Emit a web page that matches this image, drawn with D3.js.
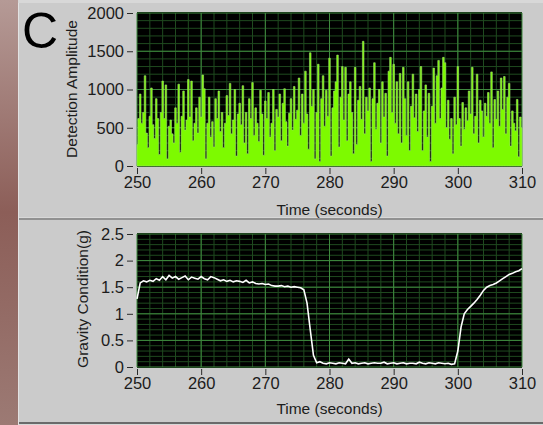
<!DOCTYPE html>
<html>
<head>
<meta charset="utf-8">
<script src="https://cdn.jsdelivr.net/npm/d3@7"></script>
<style>
  body { margin: 0; background: #d6d6d6; }
  svg { display: block; }
  .tick text { font-family: "Liberation Sans", Arial, sans-serif; font-size: 16.5px; fill: #1c1c1c; }
  .tick line { stroke: #2a2a2a; }
  .axisTitle { font-family: "Liberation Sans", Arial, sans-serif; font-size: 15.5px; fill: #1c1c1c; }
</style>
</head>
<body>
<div id="chart"></div>
<script>
// chart data
var xTicks = [250, 260, 270, 280, 290, 300, 310];
var ampTicks = [0, 500, 1000, 1500, 2000];
var gravTicks = [0, 0.5, 1, 1.5, 2, 2.5];
var gravTickLabels = ["0", "0.5", "1", "1.5", "2", "2.5"];

// detection amplitude, 4 samples per second from 250 s to 310 s
var ampStart = 250, ampStep = 0.25;
var amplitude = [
  280, 620, 940, 560,   700, 1180, 430, 240,   650, 1020, 540, 360,   880, 620, 150, 700,
  1110, 620, 1060, 90,  520, 600, 420, 300,    760, 560, 1070, 180,   650, 980, 470, 600,
  1130, 640, 1110, 330, 560, 760, 430, 900,    640, 1190, 1010, 90,   560, 900, 380, 580,
  250, 880, 620, 980,   450, 700, 240, 560,    920, 660, 1080, 420,   600, 1000, 130, 680,
  820, 540, 1050, 300,  700, 160, 880, 620,    1090, 400, 760, 560,   320, 990, 680, 140,
  850, 620, 960, 380,   560, 1000, 200, 740,   640, 940, 330, 820,    1010, 580, 260, 690,
  880, 470, 1040, 610,  730, 1150, 400, 940,   560, 1240, 680, 220,   1480, 780, 1000, 90,
  700, 1330, 60, 880,   1180, 520, 990, 650,   1410, 130, 760, 980,   1100, 1450, 250, 900,
  1300, 600, 1290, 330, 940, 1100, 700, 160,   1290, 280, 860, 1040,  610, 1630, 420, 900,
  720, 1020, 60, 880,   1350, 480, 820, 1000,  300, 1100, 640, 950,   130, 1240, 1420, 700,
  1330, 560, 1100, 420, 1210, 300, 1290, 880,  400, 1100, 200, 780,   1200, 630, 940, 450,
  1000, 1300, 200, 720, 1060, 380, 950, 60,    780, 1280, 560, 1180,  1380, 620, 1020, 1420,
  1350, 500, 860, 350,  620, 160, 900, 540,    1300, 620, 260, 830,   480, 760, 590, 980,
  680, 1290, 420, 650,  1200, 300, 860, 720,   380, 820, 650, 960,   560, 1230, 240, 870,
  610, 980, 520, 1150,  740, 1170, 420, 900,   1080, 260, 720, 560,   460, 870, 120, 640,
  500
];

// gravity condition (g), 2 samples per second from 250 s to 310 s
var gravStart = 250, gravStep = 0.5;
var gravity = [
  1.28, 1.58, 1.62, 1.60, 1.63, 1.61, 1.66, 1.63, 1.70, 1.64,
  1.72, 1.67, 1.70, 1.65, 1.68, 1.71, 1.64, 1.69, 1.67, 1.65,
  1.70, 1.66, 1.64, 1.70, 1.68, 1.65, 1.62, 1.64, 1.61, 1.63,
  1.60, 1.62, 1.61, 1.59, 1.63, 1.58, 1.60, 1.57, 1.56, 1.57,
  1.55, 1.56, 1.53, 1.52, 1.52, 1.53, 1.51, 1.52, 1.50, 1.51,
  1.50, 1.49, 1.45, 1.20, 0.70, 0.22, 0.08, 0.10, 0.07, 0.06,
  0.08, 0.07, 0.06, 0.08, 0.07, 0.06, 0.15, 0.07, 0.08, 0.06,
  0.07, 0.08, 0.06, 0.07, 0.08, 0.07, 0.07, 0.09, 0.06, 0.07,
  0.08, 0.06, 0.07, 0.08, 0.06, 0.07, 0.07, 0.06, 0.09, 0.07,
  0.06, 0.08, 0.07, 0.06, 0.08, 0.07, 0.06, 0.07, 0.05, 0.06,
  0.30, 0.75, 1.00, 1.08, 1.14, 1.20, 1.27, 1.35, 1.44, 1.50,
  1.53, 1.55, 1.58, 1.62, 1.66, 1.70, 1.74, 1.76, 1.79, 1.81,
  1.85
];

var svgWidth = 543;
var svgHeight = 425;

var svg = d3.select("#chart")
  .append("svg")
  .attr("width", svgWidth)
  .attr("height", svgHeight);

// background: brownish strip at left, gray panels
var defs = svg.append("defs");
var grad = defs.append("linearGradient").attr("id", "strip")
  .attr("x1", 0).attr("y1", 0).attr("x2", 0).attr("y2", 1);
grad.append("stop").attr("offset", "0%").attr("stop-color", "#b59a96");
grad.append("stop").attr("offset", "50%").attr("stop-color", "#8c5e58");
grad.append("stop").attr("offset", "100%").attr("stop-color", "#9c7a74");

svg.append("rect").attr("width", svgWidth).attr("height", svgHeight).attr("fill", "#d8d8d8");
svg.append("rect").attr("x", 0).attr("y", 0).attr("width", 18).attr("height", svgHeight).attr("fill", "url(#strip)");

// top panel
svg.append("rect").attr("x", 18).attr("y", 3).attr("width", 525).attr("height", 214).attr("fill", "#cbcbcb");
// bottom panel
svg.append("rect").attr("x", 18).attr("y", 220).attr("width", 525).attr("height", 202).attr("fill", "#cbcbcb");
svg.append("line").attr("x1", 18).attr("x2", 543).attr("y1", 219).attr("y2", 219).attr("stroke", "#7a7a7a").attr("stroke-width", 1.5);
svg.append("line").attr("x1", 18).attr("x2", 543).attr("y1", 423).attr("y2", 423).attr("stroke", "#6a6a6a").attr("stroke-width", 2);
svg.append("line").attr("x1", 18.5).attr("x2", 18.5).attr("y1", 3).attr("y2", 425).attr("stroke", "#e2e2e2").attr("stroke-width", 1);

var plotLeft = 137, plotRight = 522;

function drawGrid(g, xScale, yScale, xMinor, yMinor, xMajor, yMajor) {
  g.append("g").selectAll("line").data(xMinor).enter().append("line")
    .attr("x1", d => xScale(d)).attr("x2", d => xScale(d))
    .attr("y1", yScale.range()[0]).attr("y2", yScale.range()[1])
    .attr("stroke", "#1f4a1f").attr("stroke-width", 1);
  g.append("g").selectAll("line").data(yMinor).enter().append("line")
    .attr("y1", d => yScale(d)).attr("y2", d => yScale(d))
    .attr("x1", xScale.range()[0]).attr("x2", xScale.range()[1])
    .attr("stroke", "#1f4a1f").attr("stroke-width", 1);
  g.append("g").selectAll("line").data(xMajor).enter().append("line")
    .attr("x1", d => xScale(d)).attr("x2", d => xScale(d))
    .attr("y1", yScale.range()[0]).attr("y2", yScale.range()[1])
    .attr("stroke", "#3f8a3f").attr("stroke-width", 1);
  g.append("g").selectAll("line").data(yMajor).enter().append("line")
    .attr("y1", d => yScale(d)).attr("y2", d => yScale(d))
    .attr("x1", xScale.range()[0]).attr("x2", xScale.range()[1])
    .attr("stroke", "#3f8a3f").attr("stroke-width", 1);
}

function styleAxis(ax) {
  ax.select(".domain").remove();
  ax.selectAll(".tick line").attr("stroke", "#2a2a2a");
}

// ---------- top chart: detection amplitude ----------
var xTop = d3.scaleLinear().domain([250, 310]).range([plotLeft, plotRight]);
var yTop = d3.scaleLinear().domain([0, 2000]).range([166, 13]);

svg.append("rect").attr("x", plotLeft).attr("y", 12).attr("width", plotRight - plotLeft).attr("height", 155).attr("fill", "#000");

drawGrid(svg.append("g"), xTop, yTop,
  d3.range(252, 310, 2), d3.range(100, 2000, 100), xTicks, ampTicks);

var ampData = amplitude.map((v, i) => ({ t: ampStart + i * ampStep, v: v }));
svg.append("path")
  .datum(ampData)
  .attr("fill", "#7dfa00")
  .attr("stroke", "#9fe070")
  .attr("stroke-width", 0.6)
  .attr("d", d3.area().curve(d3.curveStep).x(d => xTop(d.t)).y0(yTop(0)).y1(d => yTop(d.v)));

var yAxisTop = svg.append("g")
  .attr("transform", `translate(${plotLeft - 4}, 0)`)
  .call(d3.axisLeft(yTop).tickValues(ampTicks).tickFormat(d3.format("d")).tickSize(6).tickPadding(3));
styleAxis(yAxisTop);

var xAxisTop = svg.append("g")
  .attr("transform", `translate(0, 168)`)
  .call(d3.axisBottom(xTop).tickValues(xTicks).tickSize(6).tickPadding(2));
styleAxis(xAxisTop);

svg.append("text").attr("class", "axisTitle")
  .attr("x", (plotLeft + plotRight) / 2).attr("y", 215)
  .attr("text-anchor", "middle").text("Time (seconds)");

svg.append("text").attr("class", "axisTitle")
  .attr("transform", "translate(77, 89) rotate(-90)")
  .attr("text-anchor", "middle").text("Detection Amplitude");

svg.append("text")
  .attr("x", 22).attr("y", 48)
  .attr("font-family", "Liberation Sans, Arial, sans-serif")
  .attr("font-size", "50px").attr("fill", "#000").text("C");

// ---------- bottom chart: gravity ----------
var xBot = d3.scaleLinear().domain([250, 310]).range([plotLeft, plotRight]);
var yBot = d3.scaleLinear().domain([0, 2.5]).range([367, 234]);

svg.append("rect").attr("x", plotLeft).attr("y", 233).attr("width", plotRight - plotLeft).attr("height", 135).attr("fill", "#000");

drawGrid(svg.append("g"), xBot, yBot,
  d3.range(252, 310, 2), d3.range(0.1, 2.5, 0.1), xTicks, gravTicks);

var gravData = gravity.map((v, i) => ({ t: gravStart + i * gravStep, v: v }));
svg.append("path")
  .datum(gravData)
  .attr("fill", "none")
  .attr("stroke", "#ffffff")
  .attr("stroke-width", 1.6)
  .attr("d", d3.line().x(d => xBot(d.t)).y(d => yBot(d.v)));

var yAxisBot = svg.append("g")
  .attr("transform", `translate(${plotLeft - 4}, 0)`)
  .call(d3.axisLeft(yBot).tickValues(gravTicks).tickFormat((d, i) => gravTickLabels[i]).tickSize(6).tickPadding(3));
styleAxis(yAxisBot);

var xAxisBot = svg.append("g")
  .attr("transform", `translate(0, 369)`)
  .call(d3.axisBottom(xBot).tickValues(xTicks).tickSize(6).tickPadding(2));
styleAxis(xAxisBot);

svg.append("text").attr("class", "axisTitle")
  .attr("x", (plotLeft + plotRight) / 2).attr("y", 414)
  .attr("text-anchor", "middle").text("Time (seconds)");

svg.append("text").attr("class", "axisTitle")
  .attr("transform", "translate(88, 299) rotate(-90)")
  .attr("text-anchor", "middle").text("Gravity Condition(g)");
</script>
</body>
</html>
